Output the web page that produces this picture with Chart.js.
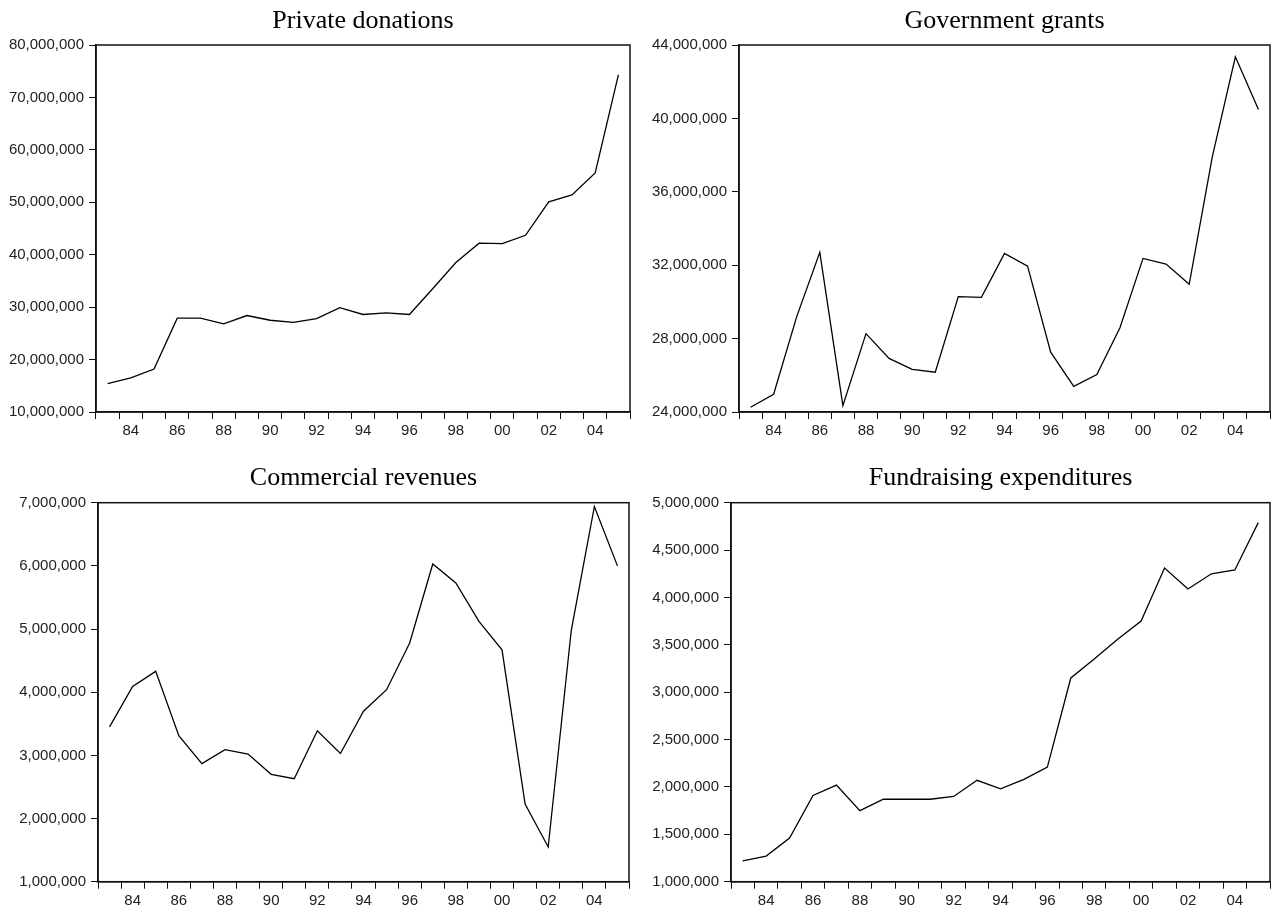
<!DOCTYPE html>
<html>
<head>
<meta charset="utf-8">
<script src="https://cdn.jsdelivr.net/npm/chart.js@4.4.1/dist/chart.umd.min.js"></script>
<style>
    html, body { margin: 0; padding: 0; background: #fff; }
    #wrap { position: relative; width: 1271px; height: 912px; overflow: hidden; }
    canvas { position: absolute; }
</style>
</head>
<body>
<div id="wrap">
    <canvas id="privateChart" width="636" height="456" style="left:0;top:0"></canvas>
    <canvas id="govChart" width="635" height="456" style="left:636px;top:0"></canvas>
    <canvas id="commercialChart" width="636" height="456" style="left:0;top:456px"></canvas>
    <canvas id="fundraisingChart" width="635" height="456" style="left:636px;top:456px"></canvas>
</div>
<script>
// yearly observations, 1983-2005
const years = [1983, 1984, 1985, 1986, 1987, 1988, 1989, 1990, 1991, 1992, 1993, 1994,
    1995, 1996, 1997, 1998, 1999, 2000, 2001, 2002, 2003, 2004, 2005];

const privateDonations = [15400000, 16500000, 18200000, 27900000, 27900000, 26800000,
    28400000, 27500000, 27100000, 27800000, 29900000, 28600000, 28900000, 28600000,
    33500000, 38500000, 42200000, 42100000, 43700000, 50100000, 51400000, 55600000, 74300000];

const governmentGrants = [24260000, 24970000, 29200000, 32700000, 24350000, 28270000,
    26920000, 26320000, 26170000, 30290000, 30250000, 32640000, 31950000, 27260000,
    25400000, 26040000, 28590000, 32370000, 32060000, 30960000, 37900000, 43360000, 40480000];

const commercialRevenues = [3450000, 4090000, 4330000, 3310000, 2870000, 3090000,
    3020000, 2700000, 2630000, 3390000, 3030000, 3700000, 4040000, 4780000, 6030000,
    5730000, 5120000, 4670000, 2230000, 1550000, 4980000, 6940000, 6000000];

const fundraisingExpenditures = [1220000, 1270000, 1460000, 1910000, 2020000, 1750000,
    1870000, 1870000, 1870000, 1900000, 2070000, 1980000, 2080000, 2210000, 3150000,
    3350000, 3560000, 3750000, 4310000, 4090000, 4250000, 4290000, 4790000];

// y-axis tick values per panel
const privateTicks = [10000000, 20000000, 30000000, 40000000, 50000000, 60000000, 70000000, 80000000];
const govTicks = [24000000, 28000000, 32000000, 36000000, 40000000, 44000000];
const commercialTicks = [1000000, 2000000, 3000000, 4000000, 5000000, 6000000, 7000000];
const fundraisingTicks = [1000000, 1500000, 2000000, 2500000, 3000000, 3500000, 4000000, 4500000, 5000000];

const tickFont = { family: '"Liberation Sans", Arial, sans-serif', size: 15 };
const titleFont = { family: '"Liberation Serif", "Times New Roman", serif', size: 26, weight: 'normal' };

// draws the closed box around the plot area
const frameBox = {
    id: 'frameBox',
    afterDraw(chart) {
        const a = chart.chartArea;
        const ctx = chart.ctx;
        ctx.save();
        ctx.strokeStyle = '#111';
        ctx.lineWidth = 1.5;
        ctx.strokeRect(a.left, a.top, a.right - a.left, a.bottom - a.top);
        ctx.restore();
    }
};

function makePanel(canvasId, title, values, yTicks, box) {
    const ctx = document.getElementById(canvasId);
    return new Chart(ctx, {
        type: 'line',
        data: {
            labels: years.map(String),
            datasets: [{
                label: title,
                data: values,
                borderColor: '#000',
                borderWidth: 1.3,
                pointRadius: 0,
                tension: 0,
                fill: false
            }]
        },
        options: {
            responsive: false,
            animation: false,
            layout: { padding: { top: 0, right: box.right, bottom: 0, left: 0 } },
            plugins: {
                legend: { display: false },
                tooltip: { enabled: false },
                title: {
                    display: true,
                    text: title,
                    fullSize: false,
                    color: '#000',
                    font: titleFont,
                    padding: { top: box.titleTop, bottom: box.titleBottom }
                }
            },
            scales: {
                x: {
                    type: 'category',
                    offset: true,
                    afterFit: (scale) => { scale.height = box.xHeight; },
                    grid: {
                        offset: true,
                        drawOnChartArea: false,
                        drawTicks: true,
                        tickLength: 7,
                        color: '#111'
                    },
                    border: { display: true, color: '#111', width: 1.5 },
                    ticks: {
                        autoSkip: false,
                        maxRotation: 0,
                        padding: 3,
                        color: '#222',
                        font: tickFont,
                        callback: (val, index) => years[index] % 2 === 0 ? String(years[index]).slice(2) : ''
                    }
                },
                y: {
                    min: yTicks[0],
                    max: yTicks[yTicks.length - 1],
                    afterFit: (scale) => { scale.width = box.yWidth; },
                    afterBuildTicks: (scale) => { scale.ticks = yTicks.map(v => ({ value: v })); },
                    grid: {
                        drawOnChartArea: false,
                        drawTicks: true,
                        tickLength: 7,
                        color: '#111'
                    },
                    border: { display: true, color: '#111', width: 1.5 },
                    ticks: {
                        padding: 5,
                        color: '#222',
                        font: tickFont,
                        callback: (v) => Number(v).toLocaleString('en-US')
                    }
                }
            }
        },
        plugins: [frameBox]
    });
}

document.addEventListener('DOMContentLoaded', () => {
    makePanel('privateChart', 'Private donations', privateDonations, privateTicks,
        { yWidth: 96, right: 6, xHeight: 44, titleTop: 5.4, titleBottom: 8.4 });
    makePanel('govChart', 'Government grants', governmentGrants, govTicks,
        { yWidth: 103, right: 1, xHeight: 44, titleTop: 5.4, titleBottom: 8.4 });
    makePanel('commercialChart', 'Commercial revenues', commercialRevenues, commercialTicks,
        { yWidth: 98, right: 7, xHeight: 30.3, titleTop: 6.4, titleBottom: 9.1 });
    makePanel('fundraisingChart', 'Fundraising expenditures', fundraisingExpenditures, fundraisingTicks,
        { yWidth: 95, right: 1, xHeight: 30.3, titleTop: 6.4, titleBottom: 9.1 });
});
</script>
</body>
</html>
